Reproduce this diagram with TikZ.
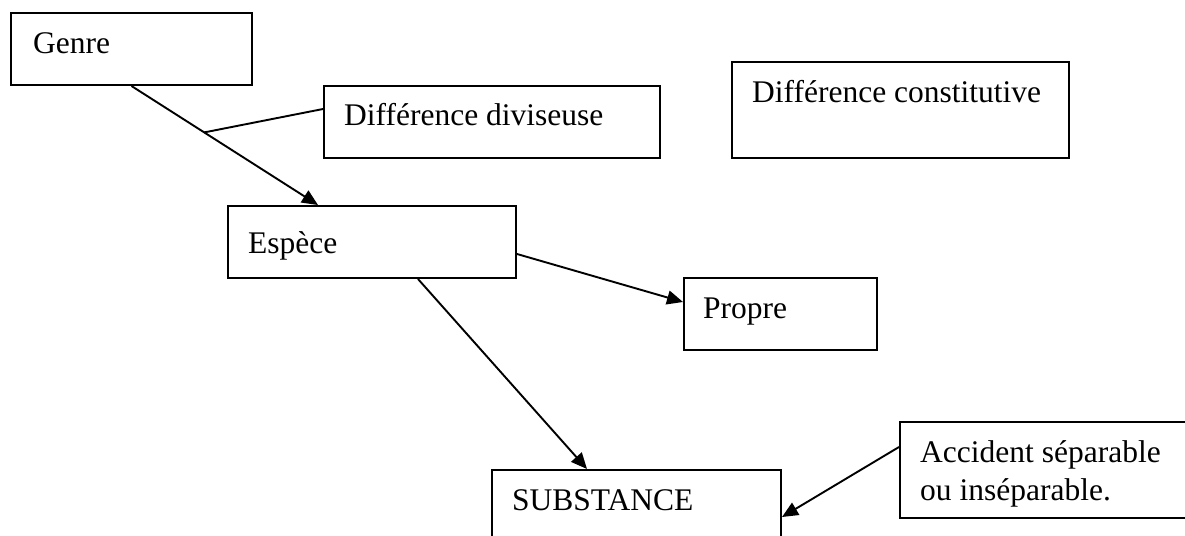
\documentclass[tikz,border=0pt]{standalone}
\usepackage{fontspec}
\setmainfont{Liberation Serif}
\usetikzlibrary{arrows.meta,calc}
\tikzset{
  box/.style={draw,line width=2pt,rectangle,inner sep=0pt,anchor=north west},
  lbl/.style={anchor=base west,inner sep=0pt,font=\fontsize{31.5}{38}\selectfont},
  conn/.style={line width=1.9pt},
  arr/.style={conn,-{Triangle[length=16pt,width=14pt]}}
}
\begin{document}
\begin{tikzpicture}[x=1pt,y=-1pt]
\useasboundingbox (0,0) rectangle (1185,535);
\clip (0,0) rectangle (1185,535);
% boxes
\node[box,minimum width=241pt,minimum height=72pt] (genre) at (10,12) {};
\node[box,minimum width=336pt,minimum height=72pt] (diviseuse) at (323,85) {};
\node[box,minimum width=337pt,minimum height=96pt] (constitutive) at (731,61) {};
\node[box,minimum width=288pt,minimum height=72pt] (espece) at (227,205) {};
\node[box,minimum width=193pt,minimum height=72pt] (propre) at (683,277) {};
\node[box,minimum width=289pt,minimum height=100pt] (substance) at (491,469) {};
\node[box,minimum width=330pt,minimum height=96pt] (accident) at (899,421) {};
% labels
\node[lbl] (tgenre) at (33,53) {Genre};
\node[lbl] (tdiv) at (344,125) {Différence diviseuse};
\node[lbl] (tcon) at (752,102) {Différence constitutive};
\node[lbl] (tesp) at (248,253) {Espèce};
\node[lbl] (tpro) at (703,318) {Propre};
\node[lbl] (tsub) at (512,510) {SUBSTANCE};
\node[lbl] (tacc1) at (920,462) {Accident séparable};
\node[lbl] (tacc2) at (920,500) {ou inséparable.};
% connectors
\coordinate (j) at ($(genre.south)!0.39!([xshift=91pt]espece.north west)$);
\draw[arr] (genre.south) -- ([xshift=91pt]espece.north west);
\draw[conn] ([yshift=-24pt]diviseuse.north west) -- (j);
\draw[arr] ([yshift=-12pt]espece.east) -- ([yshift=12pt]propre.west);
\draw[arr] ([xshift=191pt]espece.south west) -- ([xshift=96pt]substance.north west);
\draw[arr] ([yshift=-26pt]accident.north west) -- ([yshift=-48pt]substance.north east);
\end{tikzpicture}
\end{document}
